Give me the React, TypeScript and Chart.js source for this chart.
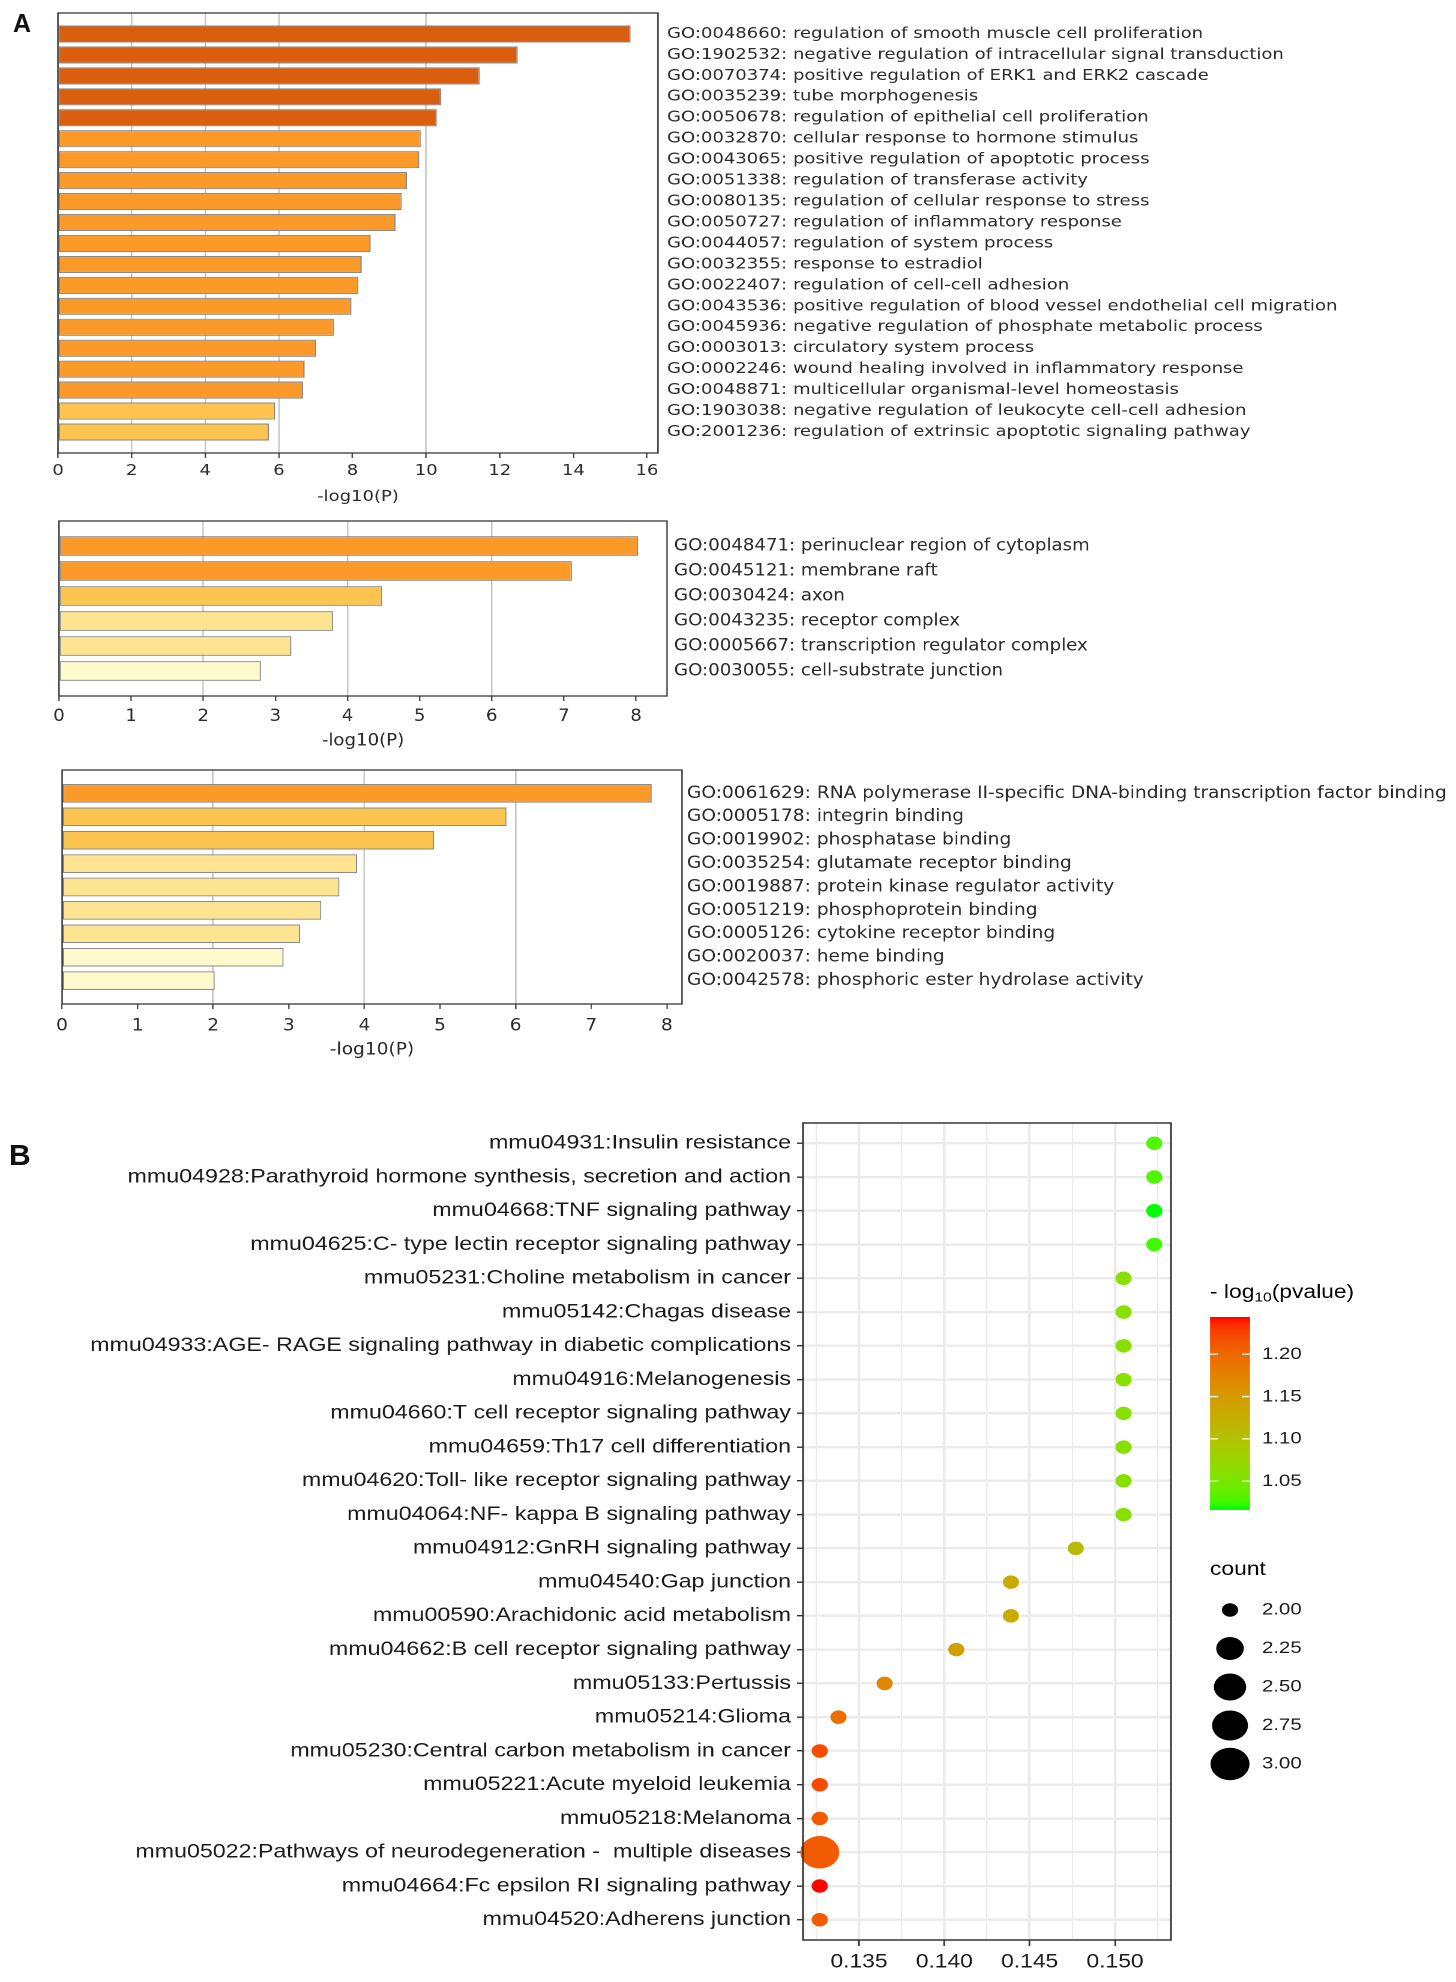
import React, { useEffect, useRef } from "react";
import { Chart, registerables } from "chart.js";

Chart.register(...registerables);

// ---------------- Panel A data ----------------
const bpTerms = [
  "GO:0048660: regulation of smooth muscle cell proliferation",
  "GO:1902532: negative regulation of intracellular signal transduction",
  "GO:0070374: positive regulation of ERK1 and ERK2 cascade",
  "GO:0035239: tube morphogenesis",
  "GO:0050678: regulation of epithelial cell proliferation",
  "GO:0032870: cellular response to hormone stimulus",
  "GO:0043065: positive regulation of apoptotic process",
  "GO:0051338: regulation of transferase activity",
  "GO:0080135: regulation of cellular response to stress",
  "GO:0050727: regulation of inflammatory response",
  "GO:0044057: regulation of system process",
  "GO:0032355: response to estradiol",
  "GO:0022407: regulation of cell-cell adhesion",
  "GO:0043536: positive regulation of blood vessel endothelial cell migration",
  "GO:0045936: negative regulation of phosphate metabolic process",
  "GO:0003013: circulatory system process",
  "GO:0002246: wound healing involved in inflammatory response",
  "GO:0048871: multicellular organismal-level homeostasis",
  "GO:1903038: negative regulation of leukocyte cell-cell adhesion",
  "GO:2001236: regulation of extrinsic apoptotic signaling pathway",
];
const bpValues = [15.56, 12.49, 11.46, 10.41, 10.29, 9.86, 9.82, 9.48, 9.34, 9.17, 8.49, 8.25, 8.16, 7.97, 7.5, 7.01, 6.7, 6.65, 5.9, 5.73];
const bpTicks = [0, 2, 4, 6, 8, 10, 12, 14, 16];
const bpGuides = [2, 4, 6, 10];
const bpAxisMax = 16.3;

const ccTerms = [
  "GO:0048471: perinuclear region of cytoplasm",
  "GO:0045121: membrane raft",
  "GO:0030424: axon",
  "GO:0043235: receptor complex",
  "GO:0005667: transcription regulator complex",
  "GO:0030055: cell-substrate junction",
];
const ccValues = [8.03, 7.11, 4.48, 3.8, 3.22, 2.8];
const ccTicks = [0, 1, 2, 3, 4, 5, 6, 7, 8];
const ccGuides = [2, 4, 6];
const ccAxisMax = 8.43;

const mfTerms = [
  "GO:0061629: RNA polymerase II-specific DNA-binding transcription factor binding",
  "GO:0005178: integrin binding",
  "GO:0019902: phosphatase binding",
  "GO:0035254: glutamate receptor binding",
  "GO:0019887: protein kinase regulator activity",
  "GO:0051219: phosphoprotein binding",
  "GO:0005126: cytokine receptor binding",
  "GO:0020037: heme binding",
  "GO:0042578: phosphoric ester hydrolase activity",
];
const mfValues = [7.8, 5.88, 4.92, 3.9, 3.67, 3.43, 3.15, 2.93, 2.02];
const mfTicks = [0, 1, 2, 3, 4, 5, 6, 7, 8];
const mfGuides = [2, 4, 6];
const mfAxisMax = 8.2;

// ---------------- Panel B data ----------------
const keggTerms = [
  "mmu04931:Insulin resistance",
  "mmu04928:Parathyroid hormone synthesis, secretion and action",
  "mmu04668:TNF signaling pathway",
  "mmu04625:C- type lectin receptor signaling pathway",
  "mmu05231:Choline metabolism in cancer",
  "mmu05142:Chagas disease",
  "mmu04933:AGE- RAGE signaling pathway in diabetic complications",
  "mmu04916:Melanogenesis",
  "mmu04660:T cell receptor signaling pathway",
  "mmu04659:Th17 cell differentiation",
  "mmu04620:Toll- like receptor signaling pathway",
  "mmu04064:NF- kappa B signaling pathway",
  "mmu04912:GnRH signaling pathway",
  "mmu04540:Gap junction",
  "mmu00590:Arachidonic acid metabolism",
  "mmu04662:B cell receptor signaling pathway",
  "mmu05133:Pertussis",
  "mmu05214:Glioma",
  "mmu05230:Central carbon metabolism in cancer",
  "mmu05221:Acute myeloid leukemia",
  "mmu05218:Melanoma",
  "mmu05022:Pathways of neurodegeneration -  multiple diseases",
  "mmu04664:Fc epsilon RI signaling pathway",
  "mmu04520:Adherens junction",
];
const keggRatio = [
  0.1523, 0.1523, 0.1523, 0.1523,
  0.1505, 0.1505, 0.1505, 0.1505, 0.1505, 0.1505, 0.1505, 0.1505,
  0.1477, 0.1439, 0.1439, 0.1407, 0.1365, 0.1338,
  0.1327, 0.1327, 0.1327, 0.1327, 0.1327, 0.1327,
];
const keggLogP = [
  1.03, 1.03, 1.016, 1.025,
  1.06, 1.06, 1.06, 1.06, 1.06, 1.06, 1.06, 1.06,
  1.11, 1.13, 1.13, 1.145, 1.17, 1.195,
  1.22, 1.22, 1.21, 1.21, 1.244, 1.21,
];
const keggCount = [2, 2, 2, 2, 2, 2, 2, 2, 2, 2, 2, 2, 2, 2, 2, 2, 2, 2, 2, 2, 2, 3, 2, 2];
const keggMajorTicks = [0.135, 0.14, 0.145, 0.15];
const keggMinorTicks = [0.1325, 0.1375, 0.1425, 0.1475, 0.1525];
const colorLegendTicks = [1.05, 1.1, 1.15, 1.2];
const sizeLegendTicks = [2.0, 2.25, 2.5, 2.75, 3.0];

// ---------------- helpers ----------------
const DJ = "'DejaVu Sans', sans-serif";
const LS = "'Liberation Sans', Arial, sans-serif";
const TXT_A = "#2b2b2b";
const TXT_B = "#1a1a1a";

function goColor(v: number): string {
  if (v >= 10) return "#D95F0E";
  if (v >= 6) return "#FB9A29";
  if (v >= 4) return "#FDC44F";
  if (v >= 3) return "#FEE391";
  return "#FFFACB";
}

function toLab(rgb: number[]): number[] {
  const lin = (c: number) => {
    c /= 255;
    return c <= 0.04045 ? c / 12.92 : Math.pow((c + 0.055) / 1.055, 2.4);
  };
  const R = lin(rgb[0]), G = lin(rgb[1]), B = lin(rgb[2]);
  const X = (0.4124564 * R + 0.3575761 * G + 0.1804375 * B) / 0.95047;
  const Y = 0.2126729 * R + 0.7151522 * G + 0.072175 * B;
  const Z = (0.0193339 * R + 0.119192 * G + 0.9503041 * B) / 1.08883;
  const f = (t: number) => (t > 0.008856 ? Math.cbrt(t) : 7.787 * t + 16 / 116);
  const fx = f(X), fy = f(Y), fz = f(Z);
  return [116 * fy - 16, 500 * (fx - fy), 200 * (fy - fz)];
}
function fromLab(lab: number[]): string {
  const [L, a, b] = lab;
  const fy = (L + 16) / 116, fx = fy + a / 500, fz = fy - b / 200;
  const finv = (t: number) => (t * t * t > 0.008856 ? t * t * t : (t - 16 / 116) / 7.787);
  const X = finv(fx) * 0.95047, Y = finv(fy), Z = finv(fz) * 1.08883;
  const R = 3.2404542 * X - 1.5371385 * Y - 0.4985314 * Z;
  const G = -0.969266 * X + 1.8760108 * Y + 0.041556 * Z;
  const B = 0.0556434 * X - 0.2040259 * Y + 1.0572252 * Z;
  const gam = (c: number) => {
    c = c <= 0.0031308 ? 12.92 * c : 1.055 * Math.pow(Math.max(c, 0), 1 / 2.4) - 0.055;
    return Math.round(Math.min(1, Math.max(0, c)) * 255);
  };
  return `rgb(${gam(R)},${gam(G)},${gam(B)})`;
}
const LAB_LOW = toLab([0, 255, 0]);
const LAB_HIGH = toLab([255, 0, 0]);
function gradColor(t: number): string {
  t = Math.min(1, Math.max(0, t));
  return fromLab(LAB_LOW.map((v, i) => v + (LAB_HIGH[i] - v) * t));
}
const cMin = Math.min(...keggLogP);
const cMax = Math.max(...keggLogP);
const colorFor = (v: number) => gradColor((v - cMin) / (cMax - cMin));
const dotRadius = (c: number) => 6.75 + 9.5 * Math.sqrt(Math.max(0, c - 2));
const isMajor = (v: number) => Math.abs(v * 200 - Math.round(v * 200)) < 1e-6;

function zeroPad(s: any) {
  s.paddingLeft = 0;
  s.paddingRight = 0;
  s.paddingTop = 0;
  s.paddingBottom = 0;
}

const boxPlugin = (color: string, lw: number) => ({
  id: "frameBox",
  afterDraw(chart: any) {
    const { ctx, chartArea: a } = chart;
    ctx.save();
    ctx.strokeStyle = color;
    ctx.lineWidth = lw;
    ctx.strokeRect(a.left, a.top, a.right - a.left, a.bottom - a.top);
    ctx.restore();
  },
});

// ---------------- Stretched canvas wrapper ----------------
function StretchChart(props: { left: number; top: number; width: number; height: number; attrWidth: number; build: () => any }) {
  const ref = useRef<HTMLCanvasElement>(null);
  useEffect(() => {
    const chart = new Chart(ref.current as HTMLCanvasElement, props.build());
    return () => chart.destroy();
  }, []);
  return (
    <canvas
      ref={ref}
      width={props.attrWidth}
      height={props.height}
      style={{
        position: "absolute",
        left: props.left + "px",
        top: props.top + "px",
        width: props.width + "px",
        height: props.height + "px",
        display: "block",
      }}
    />
  );
}

// ---------------- Panel A config ----------------
type GoParams = {
  terms: string[];
  values: number[];
  ticks: number[];
  guides: number[];
  axisMax: number;
  k: number;
  attrW: number;
  canvasTop: number;
  canvasH: number;
  areaLeft: number;
  areaRight: number;
  areaTop: number;
  areaBottom: number;
  font: number;
  tickPad: number;
  titlePadBottom: number;
  labelPad: number;
  barPct: number;
};

function goBarConfig(p: GoParams) {
  const labels = ["", ...p.terms, ""];
  const data: (number | null)[] = [null, ...p.values, null];
  const yW = p.attrW - p.areaRight * p.k;
  return {
    type: "bar",
    data: {
      labels,
      datasets: [
        {
          data,
          backgroundColor: data.map((v) => (v == null ? "transparent" : goColor(v))),
          borderColor: "#8a8a8a",
          borderWidth: 1.1,
          borderSkipped: false,
          categoryPercentage: 1,
          barPercentage: p.barPct,
        },
      ],
    },
    options: {
      indexAxis: "y",
      responsive: false,
      animation: false,
      devicePixelRatio: 2,
      layout: { padding: { left: p.areaLeft * p.k, top: p.areaTop - p.canvasTop, right: 0, bottom: 0 } },
      plugins: { legend: { display: false }, tooltip: { enabled: false } },
      scales: {
        x: {
          type: "linear",
          position: "bottom",
          min: 0,
          max: p.axisMax,
          afterBuildTicks: (s: any) => {
            s.ticks = p.ticks.map((v) => ({ value: v }));
          },
          afterFit: (s: any) => {
            s.height = p.canvasTop + p.canvasH - p.areaBottom;
            zeroPad(s);
          },
          ticks: {
            padding: p.tickPad,
            color: TXT_A,
            font: { family: DJ, size: p.font },
            callback: (v: any) => String(v),
            autoSkip: false,
            maxRotation: 0,
          },
          grid: {
            color: (c: any) => (c.tick && p.guides.includes(c.tick.value) ? "#c6c6c6" : "rgba(0,0,0,0)"),
            lineWidth: 1.3,
            drawTicks: true,
            tickLength: 5,
            tickColor: "#444",
            tickWidth: 1.2,
          },
          border: { display: false },
          title: {
            display: true,
            text: "-log10(P)",
            color: TXT_A,
            font: { family: DJ, size: p.font },
            padding: { top: 0, bottom: p.titlePadBottom },
          },
        },
        y: {
          type: "category",
          position: "right",
          offset: false,
          afterFit: (s: any) => {
            s.width = yW;
            zeroPad(s);
          },
          ticks: {
            padding: p.labelPad,
            color: TXT_A,
            font: { family: DJ, size: p.font },
            autoSkip: false,
          },
          grid: { display: false, drawTicks: false, offset: false },
          border: { display: false },
        },
      },
    },
    plugins: [boxPlugin("#3a3a3a", 1.3)],
  };
}

// ---------------- Panel B config ----------------
const B_TOP = 1100;
const B_H = 882;
const B_ATTR_W = 1213;
const kB = B_ATTR_W / 1456;

const keggLegendPlugin = {
  id: "keggLegend",
  afterDraw(chart: any) {
    const ctx = chart.ctx as CanvasRenderingContext2D;
    const X = (v: number) => v * kB;
    const Y = (v: number) => v - B_TOP;
    ctx.save();
    ctx.textBaseline = "middle";
    ctx.textAlign = "left";
    ctx.fillStyle = "#000";
    let x = X(1210);
    const ty = Y(1293);
    ctx.font = `19px ${LS}`;
    ctx.fillText("- log", x, ty);
    x += ctx.measureText("- log").width;
    ctx.font = `13px ${LS}`;
    ctx.fillText("10", x, ty + 5);
    x += ctx.measureText("10").width;
    ctx.font = `19px ${LS}`;
    ctx.fillText("(pvalue)", x, ty);
    const bx0 = X(1210), bx1 = X(1250), by0 = Y(1317), by1 = Y(1510);
    const g = ctx.createLinearGradient(0, by1, 0, by0);
    for (let i = 0; i <= 24; i++) g.addColorStop(i / 24, gradColor(i / 24));
    ctx.fillStyle = g;
    ctx.fillRect(bx0, by0, bx1 - bx0, by1 - by0);
    const cy = (v: number) => by1 - ((v - cMin) / (cMax - cMin)) * (by1 - by0);
    const tw = (bx1 - bx0) / 5;
    ctx.strokeStyle = "#ffffff";
    ctx.lineWidth = 1.3;
    for (const v of colorLegendTicks) {
      const y = cy(v);
      ctx.beginPath();
      ctx.moveTo(bx0, y);
      ctx.lineTo(bx0 + tw, y);
      ctx.moveTo(bx1 - tw, y);
      ctx.lineTo(bx1, y);
      ctx.stroke();
    }
    ctx.fillStyle = TXT_B;
    ctx.font = `17px ${LS}`;
    for (const v of colorLegendTicks) ctx.fillText(v.toFixed(2), X(1262), cy(v));
    ctx.fillStyle = "#000";
    ctx.font = `19px ${LS}`;
    ctx.fillText("count", X(1210), Y(1570));
    sizeLegendTicks.forEach((c, i) => {
      const y = Y(1610) + i * 38.5;
      ctx.fillStyle = "#000";
      ctx.beginPath();
      ctx.arc(X(1230), y, dotRadius(c), 0, Math.PI * 2);
      ctx.fill();
      ctx.fillStyle = TXT_B;
      ctx.font = `17px ${LS}`;
      ctx.fillText(c.toFixed(2), X(1262), y);
    });
    ctx.restore();
  },
};

function keggConfig() {
  const lo = Math.min(...keggRatio);
  const hi = Math.max(...keggRatio);
  const pad = (hi - lo) * 0.05;
  const xTicks = [...keggMajorTicks, ...keggMinorTicks].sort((a, b) => a - b);
  return {
    type: "scatter",
    data: {
      datasets: [
        {
          data: keggRatio.map((x, i) => ({ x, y: i })),
          pointRadius: keggCount.map(dotRadius),
          pointHoverRadius: keggCount.map(dotRadius),
          pointBackgroundColor: keggLogP.map(colorFor),
          pointBorderWidth: 0,
          pointBorderColor: "rgba(0,0,0,0)",
          clip: false,
        },
      ],
    },
    options: {
      responsive: false,
      animation: false,
      devicePixelRatio: 2,
      layout: { padding: { left: 0, top: 1123 - B_TOP, right: B_ATTR_W - 1171 * kB, bottom: 0 } },
      plugins: { legend: { display: false }, tooltip: { enabled: false } },
      scales: {
        x: {
          type: "linear",
          position: "bottom",
          min: lo - pad,
          max: hi + pad,
          afterBuildTicks: (s: any) => {
            s.ticks = xTicks.map((v) => ({ value: v }));
          },
          afterFit: (s: any) => {
            s.height = B_TOP + B_H - 1940;
            zeroPad(s);
          },
          ticks: {
            callback: (v: any) => (isMajor(v) ? Number(v).toFixed(3) : ""),
            padding: 5,
            color: TXT_B,
            font: { family: LS, size: 19 },
            autoSkip: false,
            maxRotation: 0,
          },
          grid: {
            color: "#EBEBEB",
            lineWidth: (c: any) => (c.tick && isMajor(c.tick.value) ? 2.2 : 1.1),
            tickColor: (c: any) => (c.tick && isMajor(c.tick.value) ? "#333" : "rgba(0,0,0,0)"),
            tickLength: 6,
            tickWidth: 1.4,
          },
          border: { display: false },
        },
        y: {
          type: "linear",
          position: "left",
          min: -0.6,
          max: keggTerms.length - 0.4,
          reverse: true,
          afterBuildTicks: (s: any) => {
            s.ticks = keggTerms.map((_, i) => ({ value: i }));
          },
          afterFit: (s: any) => {
            s.width = 803 * kB;
            zeroPad(s);
          },
          ticks: {
            callback: (v: any) => keggTerms[Math.round(Number(v))],
            padding: 5,
            autoSkip: false,
            color: TXT_B,
            font: { family: LS, size: 19.35 },
          },
          grid: { color: "#EBEBEB", lineWidth: 2.4, tickColor: "#333", tickLength: 5, tickWidth: 1.4 },
          border: { display: false },
        },
      },
    },
    plugins: [boxPlugin("#333333", 1.5), keggLegendPlugin],
  };
}

// ---------------- App ----------------
const W = 1456;
const A_ATTR_1 = 1224;
const A_ATTR_2 = 1324;

export default function App() {
  return (
    <div style={{ position: "absolute", left: 0, top: 0, width: W + "px", height: "1982px", background: "#ffffff", overflow: "hidden" }}>
      <StretchChart
        left={0}
        top={0}
        width={W}
        height={510}
        attrWidth={A_ATTR_1}
        build={() =>
          goBarConfig({
            terms: bpTerms, values: bpValues, ticks: bpTicks, guides: bpGuides, axisMax: bpAxisMax,
            k: A_ATTR_1 / W, attrW: A_ATTR_1, canvasTop: 0, canvasH: 510,
            areaLeft: 58, areaRight: 658, areaTop: 13, areaBottom: 453,
            font: 15.15, tickPad: 4, titlePadBottom: 4, labelPad: 7.6, barPct: 0.82,
          })
        }
      />
      <StretchChart
        left={0}
        top={505}
        width={W}
        height={255}
        attrWidth={A_ATTR_2}
        build={() =>
          goBarConfig({
            terms: ccTerms, values: ccValues, ticks: ccTicks, guides: ccGuides, axisMax: ccAxisMax,
            k: A_ATTR_2 / W, attrW: A_ATTR_2, canvasTop: 505, canvasH: 255,
            areaLeft: 59, areaRight: 667, areaTop: 521, areaBottom: 696,
            font: 16.5, tickPad: 6, titlePadBottom: 9, labelPad: 6.4, barPct: 0.79,
          })
        }
      />
      <StretchChart
        left={0}
        top={760}
        width={W}
        height={300}
        attrWidth={A_ATTR_2}
        build={() =>
          goBarConfig({
            terms: mfTerms, values: mfValues, ticks: mfTicks, guides: mfGuides, axisMax: mfAxisMax,
            k: A_ATTR_2 / W, attrW: A_ATTR_2, canvasTop: 760, canvasH: 300,
            areaLeft: 62, areaRight: 682, areaTop: 770, areaBottom: 1004,
            font: 16.9, tickPad: 7, titlePadBottom: 0, labelPad: 4.5, barPct: 0.8,
          })
        }
      />
      <StretchChart left={0} top={B_TOP} width={W} height={B_H} attrWidth={B_ATTR_W} build={keggConfig} />
      <div
        style={{
          position: "absolute", left: "13px", top: "10.5px", fontFamily: LS, fontWeight: 700,
          fontSize: "25px", lineHeight: "25px", color: "#111",
        }}
      >
        A
      </div>
      <div
        style={{
          position: "absolute", left: "9px", top: "1140px", fontFamily: LS, fontWeight: 700,
          fontSize: "30px", lineHeight: "30px", color: "#111",
        }}
      >
        B
      </div>
    </div>
  );
}
